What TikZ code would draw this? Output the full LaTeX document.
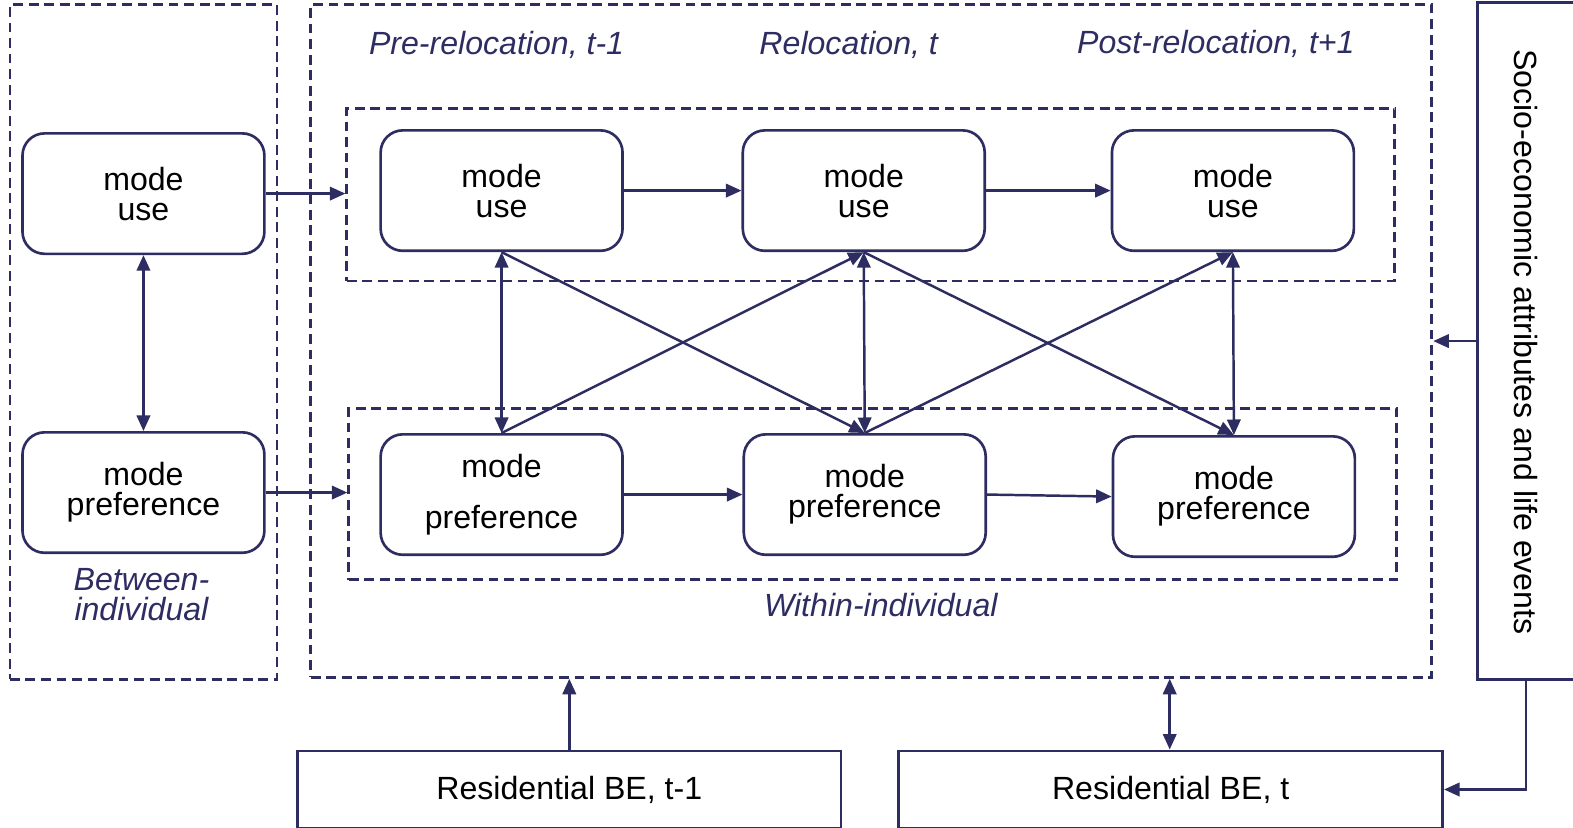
\documentclass[tikz,border=0pt]{standalone}
\usepackage{fontspec}
\setmainfont{Liberation Sans}
\usetikzlibrary{arrows.meta}
\definecolor{navy}{HTML}{2E2D62}
\tikzset{
  every node/.style={font=\fontsize{9.1pt}{8.5pt}\selectfont, text=black},
  rbox/.style={draw=navy, line width=0.75pt, rounded corners=0.22cm, minimum width=2.41cm, minimum height=1.2cm, align=center, inner sep=0pt},
  dbox/.style={draw=navy, line width=0.8pt, dash pattern=on 2.8pt off 1.6pt, inner sep=0pt},
  sbox/.style={draw=navy, line width=0.75pt, inner sep=0pt},
  lab/.style={text=navy, font=\fontsize{9.1pt}{8.5pt}\selectfont\itshape, align=center},
  arr/.style={draw=navy, line width=0.7pt, -{Triangle[length=4.4pt,width=3.8pt]}},
  darr/.style={draw=navy, line width=0.7pt, {Triangle[length=4.4pt,width=3.8pt]}-{Triangle[length=4.4pt,width=3.8pt]}},
}
\begin{document}
\begin{tikzpicture}[x=0.01cm,y=-0.01cm]
\useasboundingbox (0,0) rectangle (1568,825);
% dashed frames
\node[dbox, minimum width=2.66cm, minimum height=6.72cm] (between) at (143,341) {};
\node[dbox, minimum width=11.17cm, minimum height=6.70cm] (within) at (868.5,340) {};
\node[dbox, minimum width=10.44cm, minimum height=1.72cm] (up) at (868,194) {};
\node[dbox, minimum width=10.44cm, minimum height=1.71cm] (lo) at (870,492.5) {};
% socio box
\node[sbox, minimum width=0.96cm, minimum height=6.74cm] (socio) at (1521,340) {};
\node[rotate=-90] (sociotxt) at (1521,341) {Socio-economic attributes and life events};
% labels
\node[lab] (l1) at (495,45) {Pre-relocation, t-1};
\node[lab] (l2) at (846,45) {Relocation, t};
\node[lab] (l3) at (1212,44) {Post-relocation, t+1};
\node[lab] (l4) at (141,593) {Between-\\individual};
\node[lab] (l5) at (878,603) {Within-individual};
% rounded boxes
\node[rbox] (mu0) at (143,193) {mode\\use};
\node[rbox] (mp0) at (143,491) {mode\\preference};
\node[rbox] (mu1) at (500,190) {mode\\use};
\node[rbox] (mu2) at (861,190) {mode\\use};
\node[rbox] (mu3) at (1229,190) {mode\\use};
\node[rbox, font=\fontsize{9.1pt}{14.5pt}\selectfont] (mp1) at (500,493) {mode\\preference};
\node[rbox] (mp2) at (862,493) {mode\\preference};
\node[rbox] (mp3) at (1230,495) {mode\\preference};
% residential boxes
\node[sbox, minimum width=5.41cm, minimum height=0.77cm] (re1) at (567.5,787) {Residential BE, t-1};
\node[sbox, minimum width=5.42cm, minimum height=0.77cm] (re2) at (1167,787) {Residential BE, t};
% arrows
\draw[arr] (mu0.east) -- (mu0.east -| up.west);
\draw[arr] (mp0.east) -- (mp0.east -| lo.west);
\draw[darr] (mu0.south) -- (mp0.north);
\draw[arr] (mu1) -- (mu2);
\draw[arr] (mu2) -- (mu3);
\draw[arr] (mp1.east) -- (mp2.west);
\draw[arr] (mp2.east) -- (mp3.west);
\draw[darr] (mu1.south) -- (mp1.north);
\draw[darr] (mu2.south) -- (mp2.north);
\draw[darr] (mu3.south) -- (mp3.north);
\draw[arr] (mu1.south) -- (mp2.north);
\draw[arr] (mp1.north) -- (mu2.south);
\draw[arr] (mu2.south) -- (mp3.north);
\draw[arr] (mp2.north) -- (mu3.south);
\draw[arr] (socio.west) -- (socio.west -| within.east);
\coordinate (corner) at (socio.south |- re2.east);
\draw[arr] (socio.south) -- (corner) -- (re2.east);
\draw[arr] (re1.north) -- (re1.north |- within.south);
\draw[darr] (re2.north -| 1166,0) -- (within.south -| 1166,0);
\end{tikzpicture}
\end{document}
